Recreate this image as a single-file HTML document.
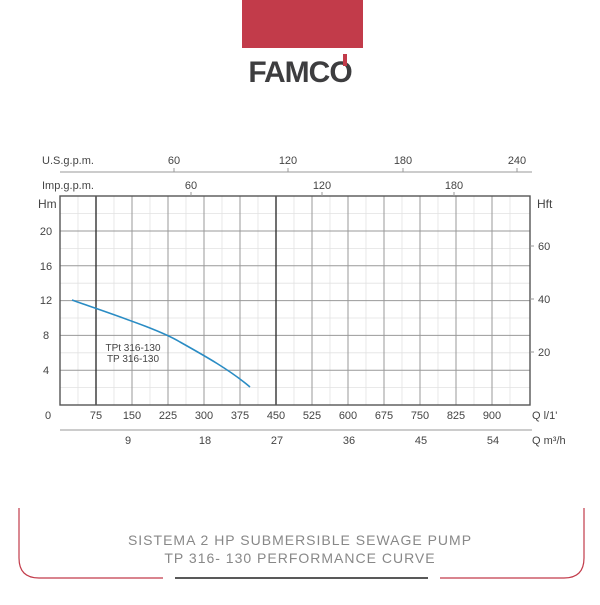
<!DOCTYPE html>
<html><head><meta charset="utf-8"><style>
body{margin:0;background:#fff;width:600px;height:600px;overflow:hidden}
</style></head><body>
<svg width="600" height="600" viewBox="0 0 600 600" xmlns="http://www.w3.org/2000/svg" font-family="Liberation Sans, sans-serif">
<rect x="242" y="0" width="121" height="48" fill="#c23b4a"/>
<text x="300" y="82" text-anchor="middle" font-size="30" font-weight="bold" fill="#3d3d3f" letter-spacing="-1">FAMCO</text>
<rect x="343" y="54" width="4" height="12" fill="#c23b4a"/>
<g stroke="#e2e2e2" stroke-width="0.8">
<line x1="78" y1="196" x2="78" y2="405"/><line x1="114" y1="196" x2="114" y2="405"/><line x1="150" y1="196" x2="150" y2="405"/><line x1="186" y1="196" x2="186" y2="405"/><line x1="222" y1="196" x2="222" y2="405"/><line x1="258" y1="196" x2="258" y2="405"/><line x1="294" y1="196" x2="294" y2="405"/><line x1="330" y1="196" x2="330" y2="405"/><line x1="366" y1="196" x2="366" y2="405"/><line x1="402" y1="196" x2="402" y2="405"/><line x1="438" y1="196" x2="438" y2="405"/><line x1="474" y1="196" x2="474" y2="405"/><line x1="510" y1="196" x2="510" y2="405"/>
<line x1="60" y1="387.6" x2="530" y2="387.6"/><line x1="60" y1="352.8" x2="530" y2="352.8"/><line x1="60" y1="318" x2="530" y2="318"/><line x1="60" y1="283.2" x2="530" y2="283.2"/><line x1="60" y1="248.4" x2="530" y2="248.4"/><line x1="60" y1="213.6" x2="530" y2="213.6"/>
</g>
<g stroke="#999" stroke-width="1">
<line x1="132" y1="196" x2="132" y2="405"/><line x1="168" y1="196" x2="168" y2="405"/><line x1="204" y1="196" x2="204" y2="405"/><line x1="240" y1="196" x2="240" y2="405"/><line x1="312" y1="196" x2="312" y2="405"/><line x1="348" y1="196" x2="348" y2="405"/><line x1="384" y1="196" x2="384" y2="405"/><line x1="420" y1="196" x2="420" y2="405"/><line x1="456" y1="196" x2="456" y2="405"/><line x1="492" y1="196" x2="492" y2="405"/>
<line x1="60" y1="370.2" x2="530" y2="370.2"/><line x1="60" y1="335.4" x2="530" y2="335.4"/><line x1="60" y1="300.6" x2="530" y2="300.6"/><line x1="60" y1="265.8" x2="530" y2="265.8"/><line x1="60" y1="231" x2="530" y2="231"/>
</g>
<g stroke="#333" stroke-width="1.4"><line x1="96" y1="196" x2="96" y2="405"/><line x1="276" y1="196" x2="276" y2="405"/></g>
<rect x="60" y="196" width="470" height="209" fill="none" stroke="#555" stroke-width="1.4"/>
<g stroke="#999" stroke-width="1">
<line x1="60" y1="172" x2="532" y2="172"/><line x1="174" y1="168" x2="174" y2="172"/><line x1="288" y1="168" x2="288" y2="172"/><line x1="403" y1="168" x2="403" y2="172"/><line x1="517" y1="168" x2="517" y2="172"/>
<line x1="191" y1="192" x2="191" y2="196"/><line x1="322" y1="192" x2="322" y2="196"/><line x1="454" y1="192" x2="454" y2="196"/>
<line x1="60" y1="430" x2="532" y2="430"/>
<line x1="530" y1="352" x2="534" y2="352"/><line x1="530" y1="299" x2="534" y2="299"/><line x1="530" y1="246" x2="534" y2="246"/>
</g>
<g font-size="11" fill="#444">
<text x="42" y="164">U.S.g.p.m.</text>
<text x="174" y="164" text-anchor="middle">60</text><text x="288" y="164" text-anchor="middle">120</text><text x="403" y="164" text-anchor="middle">180</text><text x="517" y="164" text-anchor="middle">240</text>
<text x="42" y="189">Imp.g.p.m.</text>
<text x="191" y="189" text-anchor="middle">60</text><text x="322" y="189" text-anchor="middle">120</text><text x="454" y="189" text-anchor="middle">180</text>
<text x="38" y="208" font-size="12">Hm</text><text x="537" y="208" font-size="12">Hft</text>
<text x="46" y="235" text-anchor="middle">20</text><text x="46" y="270" text-anchor="middle">16</text><text x="46" y="304" text-anchor="middle">12</text><text x="46" y="339" text-anchor="middle">8</text><text x="46" y="374" text-anchor="middle">4</text>
<text x="48" y="419" text-anchor="middle">0</text>
<text x="538" y="250">60</text><text x="538" y="303">40</text><text x="538" y="356">20</text>
<g text-anchor="middle"><text x="96" y="419">75</text><text x="132" y="419">150</text><text x="168" y="419">225</text><text x="204" y="419">300</text><text x="240" y="419">375</text><text x="276" y="419">450</text><text x="312" y="419">525</text><text x="348" y="419">600</text><text x="384" y="419">675</text><text x="420" y="419">750</text><text x="456" y="419">825</text><text x="492" y="419">900</text>
<text x="128" y="444">9</text><text x="205" y="444">18</text><text x="277" y="444">27</text><text x="349" y="444">36</text><text x="421" y="444">45</text><text x="493" y="444">54</text></g>
<text x="532" y="419">Q l/1'</text><text x="532" y="444">Q m³/h</text>
<text x="133" y="351" text-anchor="middle" font-size="10">TPt 316-130</text>
<text x="133" y="362" text-anchor="middle" font-size="10">TP 316-130</text>
</g>
<path d="M72,300 C120,317 160,330 180,342 C205,356 230,370 250,387" fill="none" stroke="#2a8cc4" stroke-width="1.6"/>
<path d="M19,508 V558 Q19,578 39,578 H163 M440,578 H564 Q584,578 584,558 V508" fill="none" stroke="#c23b4a" stroke-width="1.2"/>
<line x1="175" y1="578" x2="428" y2="578" stroke="#222" stroke-width="1.5"/>
<g font-size="14" fill="#888" text-anchor="middle" letter-spacing="1">
<text x="300" y="545">SISTEMA 2 HP SUBMERSIBLE SEWAGE PUMP</text>
<text x="300" y="563">TP 316- 130 PERFORMANCE CURVE</text>
</g>
</svg>
</body></html>
